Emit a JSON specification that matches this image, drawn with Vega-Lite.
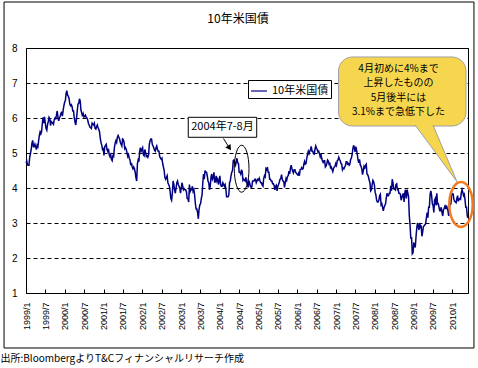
{
"$schema":"https://vega.github.io/schema/vega-lite/v6.json",
"width":442,"height":245,
"autosize":{"type":"none"},
"padding":{"left":26,"top":48,"right":10,"bottom":75},
"background":"white",
"title":{"text":"10年米国債","anchor":"middle","frame":"group","fontSize":12,"fontWeight":"normal","font":"Noto Sans CJK JP","color":"black","baseline":"middle","offset":-29,"dx":-9},
"config":{"view":{"stroke":"black","strokeWidth":1},"font":"Noto Sans CJK JP"},
"datasets":{"yields":[
{"d":"1999-01-01","v":4.72},{"d":"1999-01-08","v":4.77},{"d":"1999-01-15","v":4.66},{"d":"1999-01-22","v":4.65},{"d":"1999-01-29","v":4.65},{"d":"1999-02-05","v":4.88},{"d":"1999-02-12","v":4.98},{"d":"1999-02-19","v":5.10},{"d":"1999-02-26","v":5.28},{"d":"1999-03-05","v":5.36},{"d":"1999-03-12","v":5.18},{"d":"1999-03-19","v":5.18},{"d":"1999-03-26","v":5.25},{"d":"1999-04-02","v":5.17},{"d":"1999-04-09","v":5.10},{"d":"1999-04-16","v":5.22},{"d":"1999-04-23","v":5.18},{"d":"1999-04-30","v":5.35},{"d":"1999-05-07","v":5.50},{"d":"1999-05-14","v":5.60},{"d":"1999-05-21","v":5.55},{"d":"1999-05-28","v":5.62},{"d":"1999-06-04","v":5.85},{"d":"1999-06-11","v":6.02},{"d":"1999-06-18","v":5.85},{"d":"1999-06-25","v":6.03},{"d":"1999-07-02","v":5.85},{"d":"1999-07-09","v":5.70},{"d":"1999-07-16","v":5.65},{"d":"1999-07-23","v":5.82},{"d":"1999-07-30","v":5.90},{"d":"1999-08-06","v":6.02},{"d":"1999-08-13","v":5.98},{"d":"1999-08-20","v":5.78},{"d":"1999-08-27","v":5.90},{"d":"1999-09-03","v":5.88},{"d":"1999-09-10","v":5.85},{"d":"1999-09-17","v":5.82},{"d":"1999-09-24","v":5.95},{"d":"1999-10-01","v":6.00},{"d":"1999-10-08","v":5.98},{"d":"1999-10-15","v":6.08},{"d":"1999-10-22","v":6.20},{"d":"1999-10-29","v":6.02},{"d":"1999-11-05","v":5.92},{"d":"1999-11-12","v":6.00},{"d":"1999-11-19","v":6.05},{"d":"1999-11-26","v":6.12},{"d":"1999-12-03","v":6.18},{"d":"1999-12-10","v":6.05},{"d":"1999-12-17","v":6.22},{"d":"1999-12-24","v":6.35},{"d":"1999-12-31","v":6.45},
{"d":"2000-01-07","v":6.50},{"d":"2000-01-14","v":6.70},{"d":"2000-01-21","v":6.78},{"d":"2000-01-28","v":6.65},{"d":"2000-02-04","v":6.62},{"d":"2000-02-11","v":6.55},{"d":"2000-02-18","v":6.40},{"d":"2000-02-25","v":6.35},{"d":"2000-03-03","v":6.38},{"d":"2000-03-10","v":6.33},{"d":"2000-03-17","v":6.20},{"d":"2000-03-24","v":6.20},{"d":"2000-03-31","v":6.00},{"d":"2000-04-07","v":5.88},{"d":"2000-04-14","v":5.80},{"d":"2000-04-21","v":5.98},{"d":"2000-04-28","v":6.20},{"d":"2000-05-05","v":6.40},{"d":"2000-05-12","v":6.42},{"d":"2000-05-19","v":6.55},{"d":"2000-05-26","v":6.48},{"d":"2000-06-02","v":6.22},{"d":"2000-06-09","v":6.15},{"d":"2000-06-16","v":6.05},{"d":"2000-06-23","v":6.12},{"d":"2000-06-30","v":6.03},{"d":"2000-07-07","v":6.05},{"d":"2000-07-14","v":6.08},{"d":"2000-07-21","v":6.02},{"d":"2000-07-28","v":6.00},{"d":"2000-08-04","v":5.95},{"d":"2000-08-11","v":5.85},{"d":"2000-08-18","v":5.80},{"d":"2000-08-25","v":5.74},{"d":"2000-09-01","v":5.72},{"d":"2000-09-08","v":5.70},{"d":"2000-09-15","v":5.85},{"d":"2000-09-22","v":5.82},{"d":"2000-09-29","v":5.80},{"d":"2000-10-06","v":5.85},{"d":"2000-10-13","v":5.70},{"d":"2000-10-20","v":5.68},{"d":"2000-10-27","v":5.75},{"d":"2000-11-03","v":5.80},{"d":"2000-11-10","v":5.72},{"d":"2000-11-17","v":5.68},{"d":"2000-11-24","v":5.60},{"d":"2000-12-01","v":5.42},{"d":"2000-12-08","v":5.30},{"d":"2000-12-15","v":5.22},{"d":"2000-12-22","v":5.10},{"d":"2000-12-29","v":5.12},
{"d":"2001-01-05","v":4.93},{"d":"2001-01-12","v":5.18},{"d":"2001-01-19","v":5.22},{"d":"2001-01-26","v":5.25},{"d":"2001-02-02","v":5.10},{"d":"2001-02-09","v":5.05},{"d":"2001-02-16","v":5.12},{"d":"2001-02-23","v":4.95},{"d":"2001-03-02","v":4.90},{"d":"2001-03-09","v":4.95},{"d":"2001-03-16","v":4.82},{"d":"2001-03-23","v":4.78},{"d":"2001-03-30","v":4.92},{"d":"2001-04-06","v":4.90},{"d":"2001-04-13","v":5.15},{"d":"2001-04-20","v":5.28},{"d":"2001-04-27","v":5.35},{"d":"2001-05-04","v":5.30},{"d":"2001-05-11","v":5.45},{"d":"2001-05-18","v":5.50},{"d":"2001-05-25","v":5.45},{"d":"2001-06-01","v":5.40},{"d":"2001-06-08","v":5.30},{"d":"2001-06-15","v":5.25},{"d":"2001-06-22","v":5.20},{"d":"2001-06-29","v":5.40},{"d":"2001-07-06","v":5.38},{"d":"2001-07-13","v":5.30},{"d":"2001-07-20","v":5.12},{"d":"2001-07-27","v":5.15},{"d":"2001-08-03","v":5.10},{"d":"2001-08-10","v":5.00},{"d":"2001-08-17","v":4.90},{"d":"2001-08-24","v":4.95},{"d":"2001-08-31","v":4.85},{"d":"2001-09-07","v":4.80},{"d":"2001-09-14","v":4.65},{"d":"2001-09-21","v":4.72},{"d":"2001-09-28","v":4.60},{"d":"2001-10-05","v":4.55},{"d":"2001-10-12","v":4.60},{"d":"2001-10-19","v":4.55},{"d":"2001-10-26","v":4.45},{"d":"2001-11-02","v":4.30},{"d":"2001-11-09","v":4.20},{"d":"2001-11-16","v":4.70},{"d":"2001-11-23","v":4.80},{"d":"2001-11-30","v":4.75},{"d":"2001-12-07","v":5.05},{"d":"2001-12-14","v":5.15},{"d":"2001-12-21","v":5.05},{"d":"2001-12-28","v":5.10},
{"d":"2002-01-04","v":5.15},{"d":"2002-01-11","v":4.95},{"d":"2002-01-18","v":4.92},{"d":"2002-01-25","v":5.10},{"d":"2002-02-01","v":5.02},{"d":"2002-02-08","v":4.90},{"d":"2002-02-15","v":4.92},{"d":"2002-02-22","v":4.88},{"d":"2002-03-01","v":4.95},{"d":"2002-03-08","v":5.25},{"d":"2002-03-15","v":5.35},{"d":"2002-03-22","v":5.40},{"d":"2002-03-29","v":5.40},{"d":"2002-04-05","v":5.25},{"d":"2002-04-12","v":5.20},{"d":"2002-04-19","v":5.15},{"d":"2002-04-26","v":5.08},{"d":"2002-05-03","v":5.05},{"d":"2002-05-10","v":5.15},{"d":"2002-05-17","v":5.20},{"d":"2002-05-24","v":5.10},{"d":"2002-05-31","v":5.05},{"d":"2002-06-07","v":5.05},{"d":"2002-06-14","v":4.90},{"d":"2002-06-21","v":4.85},{"d":"2002-06-28","v":4.82},{"d":"2002-07-05","v":4.85},{"d":"2002-07-12","v":4.70},{"d":"2002-07-19","v":4.60},{"d":"2002-07-26","v":4.50},{"d":"2002-08-02","v":4.30},{"d":"2002-08-09","v":4.25},{"d":"2002-08-16","v":4.30},{"d":"2002-08-23","v":4.35},{"d":"2002-08-30","v":4.15},{"d":"2002-09-06","v":4.10},{"d":"2002-09-13","v":4.05},{"d":"2002-09-20","v":3.90},{"d":"2002-09-27","v":3.70},{"d":"2002-10-04","v":3.65},{"d":"2002-10-11","v":3.85},{"d":"2002-10-18","v":4.20},{"d":"2002-10-25","v":4.10},{"d":"2002-11-01","v":3.95},{"d":"2002-11-08","v":3.85},{"d":"2002-11-15","v":4.00},{"d":"2002-11-22","v":4.15},{"d":"2002-11-29","v":4.20},{"d":"2002-12-06","v":4.10},{"d":"2002-12-13","v":4.05},{"d":"2002-12-20","v":4.00},{"d":"2002-12-27","v":3.85},
{"d":"2003-01-03","v":4.00},{"d":"2003-01-10","v":4.15},{"d":"2003-01-17","v":4.05},{"d":"2003-01-24","v":3.95},{"d":"2003-01-31","v":3.98},{"d":"2003-02-07","v":3.95},{"d":"2003-02-14","v":3.95},{"d":"2003-02-21","v":3.88},{"d":"2003-02-28","v":3.70},{"d":"2003-03-07","v":3.70},{"d":"2003-03-14","v":3.60},{"d":"2003-03-21","v":4.10},{"d":"2003-03-28","v":3.90},{"d":"2003-04-04","v":3.95},{"d":"2003-04-11","v":3.95},{"d":"2003-04-18","v":4.05},{"d":"2003-04-25","v":3.90},{"d":"2003-05-02","v":3.95},{"d":"2003-05-09","v":3.80},{"d":"2003-05-16","v":3.55},{"d":"2003-05-23","v":3.40},{"d":"2003-05-30","v":3.40},{"d":"2003-06-06","v":3.30},{"d":"2003-06-13","v":3.12},{"d":"2003-06-20","v":3.40},{"d":"2003-06-27","v":3.52},{"d":"2003-07-04","v":3.55},{"d":"2003-07-11","v":3.70},{"d":"2003-07-18","v":3.80},{"d":"2003-07-25","v":4.15},{"d":"2003-08-01","v":4.40},{"d":"2003-08-08","v":4.25},{"d":"2003-08-15","v":4.50},{"d":"2003-08-22","v":4.45},{"d":"2003-08-29","v":4.45},{"d":"2003-09-05","v":4.35},{"d":"2003-09-12","v":4.20},{"d":"2003-09-19","v":4.15},{"d":"2003-09-26","v":3.95},{"d":"2003-10-03","v":4.05},{"d":"2003-10-10","v":4.30},{"d":"2003-10-17","v":4.40},{"d":"2003-10-24","v":4.25},{"d":"2003-10-31","v":4.30},{"d":"2003-11-07","v":4.45},{"d":"2003-11-14","v":4.15},{"d":"2003-11-21","v":4.20},{"d":"2003-11-28","v":4.35},{"d":"2003-12-05","v":4.20},{"d":"2003-12-12","v":4.25},{"d":"2003-12-19","v":4.10},{"d":"2003-12-26","v":4.20},
{"d":"2004-01-02","v":4.35},{"d":"2004-01-09","v":4.10},{"d":"2004-01-16","v":4.05},{"d":"2004-01-23","v":4.05},{"d":"2004-01-30","v":4.15},{"d":"2004-02-06","v":4.10},{"d":"2004-02-13","v":4.05},{"d":"2004-02-20","v":4.10},{"d":"2004-02-27","v":3.98},{"d":"2004-03-05","v":3.75},{"d":"2004-03-12","v":3.75},{"d":"2004-03-19","v":3.75},{"d":"2004-03-26","v":3.80},{"d":"2004-04-02","v":4.15},{"d":"2004-04-09","v":4.20},{"d":"2004-04-16","v":4.35},{"d":"2004-04-23","v":4.45},{"d":"2004-04-30","v":4.50},{"d":"2004-05-07","v":4.78},{"d":"2004-05-14","v":4.80},{"d":"2004-05-21","v":4.70},{"d":"2004-05-28","v":4.65},{"d":"2004-06-04","v":4.75},{"d":"2004-06-11","v":4.85},{"d":"2004-06-18","v":4.72},{"d":"2004-06-25","v":4.70},{"d":"2004-07-02","v":4.45},{"d":"2004-07-09","v":4.45},{"d":"2004-07-16","v":4.40},{"d":"2004-07-23","v":4.50},{"d":"2004-07-30","v":4.48},{"d":"2004-08-06","v":4.22},{"d":"2004-08-13","v":4.25},{"d":"2004-08-20","v":4.23},{"d":"2004-08-27","v":4.20},{"d":"2004-09-03","v":4.30},{"d":"2004-09-10","v":4.18},{"d":"2004-09-17","v":4.10},{"d":"2004-09-24","v":4.02},{"d":"2004-10-01","v":4.20},{"d":"2004-10-08","v":4.15},{"d":"2004-10-15","v":4.05},{"d":"2004-10-22","v":4.02},{"d":"2004-10-29","v":4.03},{"d":"2004-11-05","v":4.20},{"d":"2004-11-12","v":4.20},{"d":"2004-11-19","v":4.20},{"d":"2004-11-26","v":4.25},{"d":"2004-12-03","v":4.25},{"d":"2004-12-10","v":4.15},{"d":"2004-12-17","v":4.20},{"d":"2004-12-24","v":4.25},{"d":"2004-12-31","v":4.23},
{"d":"2005-01-07","v":4.28},{"d":"2005-01-14","v":4.20},{"d":"2005-01-21","v":4.15},{"d":"2005-01-28","v":4.15},{"d":"2005-02-04","v":4.08},{"d":"2005-02-11","v":4.05},{"d":"2005-02-18","v":4.27},{"d":"2005-02-25","v":4.35},{"d":"2005-03-04","v":4.32},{"d":"2005-03-11","v":4.55},{"d":"2005-03-18","v":4.52},{"d":"2005-03-25","v":4.60},{"d":"2005-04-01","v":4.45},{"d":"2005-04-08","v":4.45},{"d":"2005-04-15","v":4.25},{"d":"2005-04-22","v":4.25},{"d":"2005-04-29","v":4.20},{"d":"2005-05-06","v":4.20},{"d":"2005-05-13","v":4.12},{"d":"2005-05-20","v":4.12},{"d":"2005-05-27","v":4.07},{"d":"2005-06-03","v":3.95},{"d":"2005-06-10","v":4.05},{"d":"2005-06-17","v":4.08},{"d":"2005-06-24","v":3.92},{"d":"2005-07-01","v":4.05},{"d":"2005-07-08","v":4.10},{"d":"2005-07-15","v":4.17},{"d":"2005-07-22","v":4.25},{"d":"2005-07-29","v":4.28},{"d":"2005-08-05","v":4.38},{"d":"2005-08-12","v":4.25},{"d":"2005-08-19","v":4.20},{"d":"2005-08-26","v":4.18},{"d":"2005-09-02","v":4.02},{"d":"2005-09-09","v":4.15},{"d":"2005-09-16","v":4.27},{"d":"2005-09-23","v":4.22},{"d":"2005-09-30","v":4.33},{"d":"2005-10-07","v":4.35},{"d":"2005-10-14","v":4.48},{"d":"2005-10-21","v":4.40},{"d":"2005-10-28","v":4.57},{"d":"2005-11-04","v":4.65},{"d":"2005-11-11","v":4.55},{"d":"2005-11-18","v":4.48},{"d":"2005-11-25","v":4.43},{"d":"2005-12-02","v":4.52},{"d":"2005-12-09","v":4.52},{"d":"2005-12-16","v":4.45},{"d":"2005-12-23","v":4.42},{"d":"2005-12-30","v":4.39},
{"d":"2006-01-06","v":4.37},{"d":"2006-01-13","v":4.42},{"d":"2006-01-20","v":4.35},{"d":"2006-01-27","v":4.52},{"d":"2006-02-03","v":4.53},{"d":"2006-02-10","v":4.58},{"d":"2006-02-17","v":4.54},{"d":"2006-02-24","v":4.55},{"d":"2006-03-03","v":4.68},{"d":"2006-03-10","v":4.76},{"d":"2006-03-17","v":4.68},{"d":"2006-03-24","v":4.70},{"d":"2006-03-31","v":4.85},{"d":"2006-04-07","v":4.97},{"d":"2006-04-14","v":5.05},{"d":"2006-04-21","v":4.98},{"d":"2006-04-28","v":5.05},{"d":"2006-05-05","v":5.10},{"d":"2006-05-12","v":5.19},{"d":"2006-05-19","v":5.05},{"d":"2006-05-26","v":5.05},{"d":"2006-06-02","v":4.98},{"d":"2006-06-09","v":4.97},{"d":"2006-06-16","v":5.10},{"d":"2006-06-23","v":5.20},{"d":"2006-06-30","v":5.14},{"d":"2006-07-07","v":5.10},{"d":"2006-07-14","v":5.03},{"d":"2006-07-21","v":5.05},{"d":"2006-07-28","v":4.98},{"d":"2006-08-04","v":4.90},{"d":"2006-08-11","v":4.98},{"d":"2006-08-18","v":4.85},{"d":"2006-08-25","v":4.78},{"d":"2006-09-01","v":4.73},{"d":"2006-09-08","v":4.78},{"d":"2006-09-15","v":4.78},{"d":"2006-09-22","v":4.60},{"d":"2006-09-29","v":4.63},{"d":"2006-10-06","v":4.70},{"d":"2006-10-13","v":4.80},{"d":"2006-10-20","v":4.77},{"d":"2006-10-27","v":4.68},{"d":"2006-11-03","v":4.70},{"d":"2006-11-10","v":4.58},{"d":"2006-11-17","v":4.60},{"d":"2006-11-24","v":4.53},{"d":"2006-12-01","v":4.47},{"d":"2006-12-08","v":4.56},{"d":"2006-12-15","v":4.60},{"d":"2006-12-22","v":4.62},{"d":"2006-12-29","v":4.70},
{"d":"2007-01-05","v":4.65},{"d":"2007-01-12","v":4.78},{"d":"2007-01-19","v":4.80},{"d":"2007-01-26","v":4.88},{"d":"2007-02-02","v":4.82},{"d":"2007-02-09","v":4.78},{"d":"2007-02-16","v":4.70},{"d":"2007-02-23","v":4.68},{"d":"2007-03-02","v":4.52},{"d":"2007-03-09","v":4.57},{"d":"2007-03-16","v":4.55},{"d":"2007-03-23","v":4.60},{"d":"2007-03-30","v":4.64},{"d":"2007-04-06","v":4.75},{"d":"2007-04-13","v":4.75},{"d":"2007-04-20","v":4.68},{"d":"2007-04-27","v":4.70},{"d":"2007-05-04","v":4.65},{"d":"2007-05-11","v":4.68},{"d":"2007-05-18","v":4.82},{"d":"2007-05-25","v":4.85},{"d":"2007-06-01","v":4.95},{"d":"2007-06-08","v":5.12},{"d":"2007-06-15","v":5.22},{"d":"2007-06-22","v":5.15},{"d":"2007-06-29","v":5.03},{"d":"2007-07-06","v":5.18},{"d":"2007-07-13","v":5.08},{"d":"2007-07-20","v":4.95},{"d":"2007-07-27","v":4.80},{"d":"2007-08-03","v":4.72},{"d":"2007-08-10","v":4.82},{"d":"2007-08-17","v":4.66},{"d":"2007-08-24","v":4.62},{"d":"2007-08-31","v":4.55},{"d":"2007-09-07","v":4.38},{"d":"2007-09-14","v":4.48},{"d":"2007-09-21","v":4.62},{"d":"2007-09-28","v":4.58},{"d":"2007-10-05","v":4.65},{"d":"2007-10-12","v":4.68},{"d":"2007-10-19","v":4.40},{"d":"2007-10-26","v":4.38},{"d":"2007-11-02","v":4.32},{"d":"2007-11-09","v":4.22},{"d":"2007-11-16","v":4.15},{"d":"2007-11-23","v":3.92},{"d":"2007-11-30","v":3.95},{"d":"2007-12-07","v":4.10},{"d":"2007-12-14","v":4.22},{"d":"2007-12-21","v":4.18},{"d":"2007-12-28","v":4.08},
{"d":"2008-01-04","v":3.88},{"d":"2008-01-11","v":3.80},{"d":"2008-01-18","v":3.65},{"d":"2008-01-25","v":3.60},{"d":"2008-02-01","v":3.60},{"d":"2008-02-08","v":3.65},{"d":"2008-02-15","v":3.78},{"d":"2008-02-22","v":3.82},{"d":"2008-02-29","v":3.52},{"d":"2008-03-07","v":3.55},{"d":"2008-03-14","v":3.45},{"d":"2008-03-21","v":3.35},{"d":"2008-03-28","v":3.45},{"d":"2008-04-04","v":3.50},{"d":"2008-04-11","v":3.55},{"d":"2008-04-18","v":3.72},{"d":"2008-04-25","v":3.85},{"d":"2008-05-02","v":3.78},{"d":"2008-05-09","v":3.78},{"d":"2008-05-16","v":3.85},{"d":"2008-05-23","v":3.85},{"d":"2008-05-30","v":4.06},{"d":"2008-06-06","v":3.92},{"d":"2008-06-13","v":4.25},{"d":"2008-06-20","v":4.15},{"d":"2008-06-27","v":3.98},{"d":"2008-07-04","v":3.98},{"d":"2008-07-11","v":3.95},{"d":"2008-07-18","v":4.10},{"d":"2008-07-25","v":4.12},{"d":"2008-08-01","v":3.95},{"d":"2008-08-08","v":3.95},{"d":"2008-08-15","v":3.85},{"d":"2008-08-22","v":3.85},{"d":"2008-08-29","v":3.82},{"d":"2008-09-05","v":3.65},{"d":"2008-09-12","v":3.72},{"d":"2008-09-19","v":3.80},{"d":"2008-09-26","v":3.85},{"d":"2008-10-03","v":3.60},{"d":"2008-10-10","v":3.88},{"d":"2008-10-17","v":3.95},{"d":"2008-10-24","v":3.70},{"d":"2008-10-31","v":3.95},{"d":"2008-11-07","v":3.85},{"d":"2008-11-14","v":3.75},{"d":"2008-11-21","v":3.20},{"d":"2008-11-28","v":2.95},{"d":"2008-12-05","v":2.55},{"d":"2008-12-12","v":2.60},{"d":"2008-12-19","v":2.12},{"d":"2008-12-26","v":2.15},
{"d":"2009-01-02","v":2.42},{"d":"2009-01-09","v":2.40},{"d":"2009-01-16","v":2.30},{"d":"2009-01-23","v":2.60},{"d":"2009-01-30","v":2.85},{"d":"2009-02-06","v":3.00},{"d":"2009-02-13","v":2.90},{"d":"2009-02-20","v":2.80},{"d":"2009-02-27","v":3.00},{"d":"2009-03-06","v":2.88},{"d":"2009-03-13","v":2.90},{"d":"2009-03-20","v":2.62},{"d":"2009-03-27","v":2.75},{"d":"2009-04-03","v":2.90},{"d":"2009-04-10","v":2.92},{"d":"2009-04-17","v":2.95},{"d":"2009-04-24","v":2.98},{"d":"2009-05-01","v":3.15},{"d":"2009-05-08","v":3.30},{"d":"2009-05-15","v":3.15},{"d":"2009-05-22","v":3.45},{"d":"2009-05-29","v":3.45},{"d":"2009-06-05","v":3.82},{"d":"2009-06-12","v":3.92},{"d":"2009-06-19","v":3.78},{"d":"2009-06-26","v":3.55},{"d":"2009-07-03","v":3.50},{"d":"2009-07-10","v":3.30},{"d":"2009-07-17","v":3.65},{"d":"2009-07-24","v":3.70},{"d":"2009-07-31","v":3.50},{"d":"2009-08-07","v":3.85},{"d":"2009-08-14","v":3.55},{"d":"2009-08-21","v":3.55},{"d":"2009-08-28","v":3.45},{"d":"2009-09-04","v":3.35},{"d":"2009-09-11","v":3.35},{"d":"2009-09-18","v":3.45},{"d":"2009-09-25","v":3.30},{"d":"2009-10-02","v":3.20},{"d":"2009-10-09","v":3.38},{"d":"2009-10-16","v":3.42},{"d":"2009-10-23","v":3.48},{"d":"2009-10-30","v":3.40},{"d":"2009-11-06","v":3.50},{"d":"2009-11-13","v":3.42},{"d":"2009-11-20","v":3.35},{"d":"2009-11-27","v":3.20},{"d":"2009-12-04","v":3.45},{"d":"2009-12-11","v":3.55},{"d":"2009-12-18","v":3.55},{"d":"2009-12-25","v":3.80},{"d":"2009-12-31","v":3.84},
{"d":"2010-01-08","v":3.83},{"d":"2010-01-15","v":3.68},{"d":"2010-01-22","v":3.62},{"d":"2010-01-29","v":3.60},{"d":"2010-02-05","v":3.58},{"d":"2010-02-12","v":3.70},{"d":"2010-02-19","v":3.78},{"d":"2010-02-26","v":3.62},{"d":"2010-03-05","v":3.68},{"d":"2010-03-12","v":3.70},{"d":"2010-03-19","v":3.68},{"d":"2010-03-26","v":3.86},{"d":"2010-04-02","v":3.95},{"d":"2010-04-09","v":3.88},{"d":"2010-04-16","v":3.78},{"d":"2010-04-23","v":3.82},{"d":"2010-04-30","v":3.66},{"d":"2010-05-07","v":3.45},{"d":"2010-05-14","v":3.45},{"d":"2010-05-21","v":3.22},{"d":"2010-05-25","v":3.15}
]},
"encoding":{
 "x":{"field":"d","type":"temporal",
  "scale":{"type":"utc","domain":[{"year":1999,"month":1,"date":1,"utc":true},{"year":2010,"month":5,"date":28,"utc":true}]},
  "axis":{"title":"出所:BloombergよりT&Cフィナンシャルリサーチ作成","titleAnchor":"start","titleAlign":"left","titleX":-26,"titleY":65,"titleBaseline":"middle","titleFontSize":10,"titleFontWeight":"normal","titleFont":"Noto Sans CJK JP","titleColor":"black",
   "format":"%Y/%-m","tickCount":{"interval":"month","step":6},"labelAngle":270,"labelAlign":"right","labelBaseline":"middle","labelFont":"Liberation Sans","labelFontSize":9,"labelColor":"black","tickSize":-4,"tickColor":"black","labelPadding":13,"domain":false,"grid":false,"labelOverlap":false,"labelFlush":false}},
 "y":{"field":"v","type":"quantitative","scale":{"domain":[1,8],"nice":false,"zero":false},
  "axis":{"values":[1,2,3,4,5,6,7,8],"title":null,"grid":true,"gridDash":[4,3],"gridColor":"black","gridOpacity":1,"ticks":false,"domain":false,"labelPadding":9,"labelFont":"Liberation Sans","labelFontSize":10,"labelColor":"black","format":"d"}}
},
"layer":[
 {"data":{"values":[{"d":"1998-06-08","d2":"2010-07-23","v":9.314,"v2":-0.571}],"format":{"parse":{"d":"date","d2":"date"}}},
  "mark":{"type":"rect","fillOpacity":0,"stroke":"black","strokeWidth":1,"clip":false},
  "encoding":{"x2":{"field":"d2"},"y2":{"field":"v2"}}},
 {"data":{"name":"yields"},
  "mark":{"type":"line","strokeWidth":1.5},
  "encoding":{"color":{"datum":"10年米国債","scale":{"range":["#000080"]},
   "legend":{"title":null,"orient":"none","legendX":222,"legendY":32,"direction":"vertical","strokeColor":"black","fillColor":"white","padding":2,"symbolType":"stroke","symbolSize":256,"symbolStrokeWidth":1.2,"labelFont":"Noto Sans CJK JP","labelFontSize":11,"labelColor":"black","labelOffset":4,"cornerRadius":0}}}},
 {"data":{"values":[{"d":"2003-03-10","d2":"2004-12-14","v":6.02,"v2":5.449}],"format":{"parse":{"d":"date","d2":"date"}}},
  "mark":{"type":"rect","fill":"white","stroke":"black","strokeWidth":1},
  "encoding":{"x2":{"field":"d2"},"y2":{"field":"v2"}}},
 {"data":{"values":[{"d":"2004-01-26","v":5.734,"t":"2004年7-8月"}]},
  "mark":{"type":"text","fontSize":11,"align":"center","baseline":"middle","color":"black","font":"Noto Sans CJK JP"},
  "encoding":{"text":{"field":"t"}}},
 {"data":{"values":[{"d":"2004-02-05","v":5.414,"d2":"2004-04-01","v2":5.143}],"format":{"parse":{"d":"date","d2":"date"}}},
  "mark":{"type":"rule","color":"black","strokeWidth":1},
  "encoding":{"x2":{"field":"d2"},"y2":{"field":"v2"}}},
 {"data":{"values":[{"d":"2004-04-01","v":5.143}]},
  "mark":{"type":"point","shape":"triangle-right","angle":57,"filled":true,"fill":"black","size":40,"strokeWidth":0,"opacity":1},
  "encoding":{}},
 {"data":{"values":[{"d":"2004-07-25","v":4.551}]},
  "mark":{"type":"point","shape":"M0,-1C0.1728,-1 0.3128,-0.5523 0.3128,0C0.3128,0.5523 0.1728,1 0,1C-0.1728,1 -0.3128,0.5523 -0.3128,0C-0.3128,-0.5523 -0.1728,-1 0,-1Z","size":2209,"filled":false,"stroke":"black","strokeWidth":1,"opacity":1},
  "encoding":{}},
 {"data":{"values":[{"d":"2007-01-24","d2":"2010-05-09","v":7.743,"v2":5.771}],"format":{"parse":{"d":"date","d2":"date"}}},
  "mark":{"type":"rect","fill":"#f6d64e","stroke":"#a0a0a0","strokeWidth":1,"cornerRadius":14},
  "encoding":{"x2":{"field":"d2"},"y2":{"field":"v2"}}},
 {"data":{"values":[{"d":"2008-11-27","v":6.0,"v2":6.0},{"d":"2009-06-04","v":6.0,"v2":5.226},{"d":"2010-02-13","v":4.18,"v2":4.18}]},
  "mark":{"type":"area","fill":"#f6d64e","stroke":"#a0a0a0","strokeWidth":1,"opacity":1,"fillOpacity":1},
  "encoding":{"y2":{"field":"v2"}}},
 {"data":{"values":[{"d":"2007-02-02","d2":"2010-04-29","v":7.714,"v2":5.8}],"format":{"parse":{"d":"date","d2":"date"}}},
  "mark":{"type":"rect","fill":"#f6d64e","strokeWidth":0,"cornerRadius":13},
  "encoding":{"x2":{"field":"d2"},"y2":{"field":"v2"}}},
 {"data":{"values":[{"d":"2008-08-11","v":7.414,"t":"4月初めに4%まで\n上昇したものの\n5月後半には\n3.1%まで急低下した"}]},
  "mark":{"type":"text","fontSize":10,"lineHeight":14.5,"lineBreak":"\n","align":"center","baseline":"middle","color":"black","font":"Noto Sans CJK JP"},
  "encoding":{"text":{"field":"t"}}},
 {"data":{"values":[{"d":"2010-03-23","v":3.529}]},
  "mark":{"type":"point","shape":"M0,-1C0.2872,-1 0.52,-0.5523 0.52,0C0.52,0.5523 0.2872,1 0,1C-0.2872,1 -0.52,0.5523 -0.52,0C-0.52,-0.5523 -0.2872,-1 0,-1Z","size":2025,"filled":false,"stroke":"#f47a20","strokeWidth":2.5,"opacity":1,"clip":false},
  "encoding":{}}
]
}
